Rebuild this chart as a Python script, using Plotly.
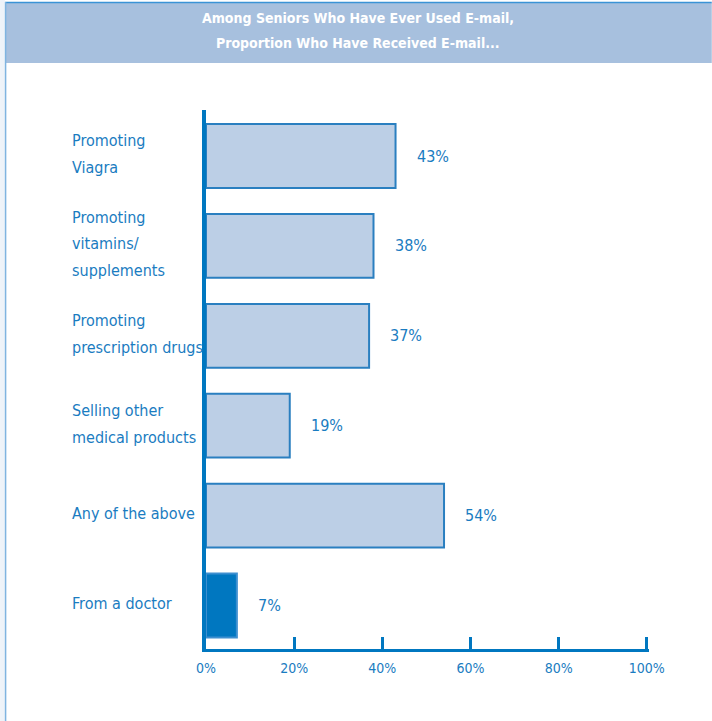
import plotly.graph_objects as go

categories = ["Promoting<br>Viagra", "Promoting<br>vitamins/<br>supplements",
              "Promoting<br>prescription drugs", "Selling other<br>medical products",
              "Any of the above", "From a doctor"]
values = [43, 38, 37, 19, 54, 7]
value_labels = ["43%", "38%", "37%", "19%", "54%", "7%"]
tick_vals = [0, 20, 40, 60, 80, 100]
tick_text = ["0%", "20%", "40%", "60%", "80%", "100%"]
title_lines = ["Among Seniors Who Have Ever Used E-mail,", "Proportion Who Have Received E-mail..."]

W, H = 712, 721
XMAX = 100.5
L, T, B = 206, 110, 649
R = L + 4.41 * XMAX
FONT = "DejaVu Sans Condensed, Liberation Sans Narrow, sans-serif"
BLUE = "#0077c0"
TXT = "#1a7cc1"
LIGHT = "#bccfe6"

def px(x):
    return (x - L) / (R - L)

def py(y):
    return (B - y) / (B - T)

fills = [LIGHT] * 5 + [BLUE]
lines = ["#2a7fc0"] * 5 + ["#3d8fd0"]

fig = go.Figure()
fig.add_trace(go.Bar(
    y=list(range(len(categories))), x=values, orientation="h",
    width=0.71,
    marker=dict(color=fills, line=dict(color=lines, width=2)),
    hoverinfo="skip",
))

annotations = []
for i, (v, t) in enumerate(zip(values, value_labels)):
    annotations.append(dict(x=v, y=i, xref="x", yref="y", text=t, showarrow=False,
                            xanchor="left", xshift=19, font=dict(size=16, color=TXT, family=FONT)))
LS = 26.7
for i, c in enumerate(categories):
    parts = c.split("<br>")
    n = len(parts)
    for k, p in enumerate(parts):
        annotations.append(dict(x=px(70), y=i, xref="paper", yref="y", text=p, showarrow=False,
                                xanchor="left", align="left", yanchor="middle",
                                yshift=((n - 1) / 2 - k) * LS + 2,
                                font=dict(size=16, color=TXT, family=FONT)))
for k, line in enumerate(title_lines):
    annotations.append(dict(x=px(358), y=py(18 + 25 * k), xref="paper", yref="paper",
                            text="<b>" + line + "</b>", showarrow=False,
                            xanchor="center", yanchor="middle", align="center",
                            font=dict(size=14, color="white", family=FONT)))

shapes = [
    dict(type="rect", xref="paper", yref="paper", x0=px(0), x1=px(5), y0=py(721), y1=py(0),
         fillcolor="#eef3f9", line=dict(width=0), layer="below"),
    dict(type="rect", xref="paper", yref="paper", x0=px(5), x1=px(712), y0=py(63), y1=py(3),
         fillcolor="#a7c0de", line=dict(width=0), layer="below"),
    dict(type="line", xref="paper", yref="paper", x0=px(5), x1=px(712), y0=py(2.5), y1=py(2.5),
         line=dict(color="#3a93d6", width=1.5)),
    dict(type="line", xref="paper", yref="paper", x0=px(5.5), x1=px(5.5), y0=py(721), y1=py(2),
         line=dict(color="#7fb4e0", width=1.5)),
]

fig.update_layout(
    width=W, height=H,
    margin=dict(l=L, r=W - R, t=T, b=H - B, pad=0),
    paper_bgcolor="white", plot_bgcolor="white",
    showlegend=False,
    annotations=annotations, shapes=shapes,
    xaxis=dict(range=[0, XMAX], tickvals=tick_vals, ticktext=tick_text,
               ticks="inside", ticklen=12, tickwidth=3, tickcolor=BLUE,
               showline=True, linecolor=BLUE, linewidth=3, showgrid=False, zeroline=False,
               ticklabelstandoff=4,
               tickfont=dict(size=14, color=TXT, family=FONT), fixedrange=True),
    yaxis=dict(range=[5.484, -0.512], showticklabels=False, ticks="", showgrid=False,
               zeroline=False, showline=True, linecolor=BLUE, linewidth=4, fixedrange=True),
)

fig.write_html("out.html", config={"displayModeBar": False},
               post_script="document.body.style.margin='0';document.body.style.overflow='hidden';")
